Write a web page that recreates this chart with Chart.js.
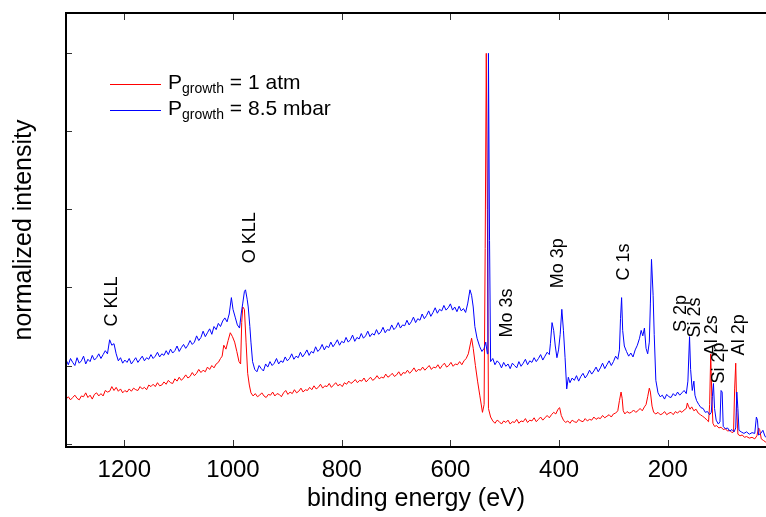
<!DOCTYPE html>
<html>
<head>
<meta charset="utf-8">
<script src="https://cdn.jsdelivr.net/npm/chart.js@4.4.1/dist/chart.umd.min.js"></script>
<style>
  html, body { margin: 0; padding: 0; background: #fff; }
  canvas { display: block; }
</style>
</head>
<body>
<canvas id="xpsChart" width="766" height="517"></canvas>
<script>
// XPS survey spectra, binding energy (eV) vs normalized intensity
const energyTicks = [200, 400, 600, 800, 1000, 1200];
const intensityTicks = [0, 1, 2, 3, 4, 5];

const redSpectrum = [
  [1307,0.57],[1303,0.60],[1299,0.56],[1295,0.59],[1291,0.62],[1287,0.58],[1283,0.56],[1279,0.61],
  [1275,0.60],[1271,0.65],[1267,0.59],[1263,0.62],[1259,0.57],[1255,0.63],[1251,0.65],[1247,0.61],
  [1243,0.64],[1239,0.61],[1235,0.68],[1231,0.66],[1227,0.67],[1223,0.73],[1219,0.68],[1215,0.72],
  [1211,0.67],[1207,0.70],[1203,0.65],[1199,0.68],[1195,0.66],[1191,0.70],[1187,0.67],[1183,0.71],
  [1179,0.69],[1175,0.68],[1171,0.73],[1167,0.70],[1163,0.72],[1159,0.69],[1155,0.75],[1151,0.73],
  [1147,0.76],[1143,0.73],[1139,0.78],[1135,0.74],[1131,0.75],[1127,0.79],[1123,0.76],[1119,0.81],
  [1115,0.78],[1111,0.77],[1107,0.83],[1103,0.80],[1099,0.85],[1095,0.81],[1091,0.84],[1087,0.88],
  [1083,0.84],[1079,0.86],[1075,0.91],[1071,0.87],[1067,0.90],[1063,0.95],[1059,0.91],[1055,0.94],
  [1051,0.92],[1047,0.98],[1043,0.95],[1039,1.00],[1035,0.97],[1031,1.02],[1027,1.04],[1023,1.09],
  [1020,1.12],[1017,1.26],[1013,1.21],[1009,1.32],[1005,1.42],[1001,1.37],[997,1.30],[993,1.18],
  [989,1.05],[986,1.02],[984,1.55],[982,1.75],[979,1.72],[976,1.30],[973,0.90],[970,0.75],
  [967,0.65],[963,0.61],[959,0.64],[955,0.60],[951,0.62],[947,0.65],[943,0.61],[939,0.59],
  [935,0.63],[931,0.62],[927,0.66],[923,0.61],[919,0.64],[915,0.63],[911,0.60],[907,0.65],
  [903,0.68],[899,0.63],[895,0.66],[891,0.64],[887,0.69],[883,0.65],[879,0.67],[875,0.71],
  [871,0.66],[867,0.69],[863,0.68],[859,0.72],[855,0.69],[851,0.74],[847,0.70],[843,0.72],
  [839,0.76],[835,0.71],[831,0.74],[827,0.73],[823,0.77],[819,0.72],[815,0.75],[811,0.78],
  [807,0.74],[803,0.76],[799,0.73],[795,0.78],[791,0.76],[787,0.80],[783,0.77],[779,0.79],
  [775,0.82],[771,0.78],[767,0.81],[763,0.80],[759,0.84],[755,0.79],[751,0.82],[747,0.85],
  [743,0.81],[739,0.83],[735,0.87],[731,0.83],[727,0.85],[723,0.84],[719,0.89],[715,0.85],
  [711,0.87],[707,0.90],[703,0.86],[699,0.88],[695,0.92],[691,0.87],[687,0.91],[683,0.90],
  [679,0.94],[675,0.90],[671,0.93],[667,0.97],[663,0.92],[659,0.95],[655,0.94],[651,0.98],
  [647,0.94],[643,0.97],[639,1.00],[635,0.95],[631,0.98],[627,0.97],[623,1.01],[619,0.96],
  [615,1.00],[611,1.03],[607,0.98],[603,1.00],[599,1.04],[595,0.99],[591,1.02],[587,1.01],
  [583,1.05],[579,1.01],[575,1.06],[571,1.09],[567,1.15],[564,1.25],[561,1.35],[558,1.22],
  [554,1.00],[550,0.80],[546,0.62],[541,0.40],[538,0.50],[536,2.50],[534,5.00],[532,3.00],
  [530,0.45],[526,0.34],[522,0.29],[518,0.26],[514,0.30],[510,0.28],[506,0.25],[502,0.29],
  [498,0.27],[494,0.30],[490,0.25],[486,0.28],[482,0.27],[478,0.31],[474,0.26],[470,0.29],
  [466,0.28],[462,0.32],[458,0.27],[454,0.30],[450,0.29],[446,0.33],[442,0.28],[438,0.31],
  [434,0.34],[430,0.30],[426,0.33],[422,0.36],[418,0.33],[414,0.37],[410,0.40],[406,0.38],
  [402,0.44],[399,0.46],[396,0.36],[392,0.30],[388,0.27],[384,0.29],[380,0.26],[376,0.30],
  [372,0.28],[368,0.27],[364,0.31],[360,0.29],[356,0.28],[352,0.32],[348,0.29],[344,0.31],
  [340,0.30],[336,0.34],[332,0.31],[328,0.33],[324,0.32],[320,0.36],[316,0.33],[312,0.35],
  [308,0.37],[304,0.34],[300,0.38],[296,0.39],[292,0.42],[289,0.55],[286,0.66],[284,0.58],
  [282,0.42],[279,0.38],[275,0.41],[271,0.39],[267,0.40],[263,0.43],[259,0.40],[255,0.42],
  [251,0.45],[247,0.42],[243,0.47],[240,0.50],[237,0.60],[234,0.71],[232,0.66],[229,0.48],
  [226,0.40],[222,0.38],[218,0.40],[214,0.37],[210,0.38],[206,0.41],[202,0.37],[198,0.39],
  [194,0.40],[190,0.37],[186,0.41],[182,0.39],[178,0.42],[174,0.40],[170,0.43],[166,0.45],
  [164,0.52],[162,0.48],[159,0.44],[156,0.47],[152,0.42],[148,0.44],[144,0.39],[140,0.37],
  [136,0.35],[132,0.33],[128,0.30],[125,0.28],[123,0.50],[121,1.15],[119,0.60],[117,0.26],
  [114,0.22],[110,0.23],[106,0.20],[102,0.21],[98,0.18],[94,0.19],[90,0.16],[86,0.17],
  [82,0.14],[79,0.15],[77,0.70],[75,1.03],[73,0.40],[71,0.12],[67,0.10],[63,0.11],
  [59,0.08],[55,0.09],[50,0.07],[45,0.08],[40,0.06],[36,0.10],[33,0.20],[31,0.18],
  [28,0.06],[24,0.04],[20,0.02],[16,0.01]
];

const blueSpectrum = [
  [1307,1.07],[1303,1.01],[1299,1.09],[1295,1.04],[1291,1.00],[1287,1.10],[1283,1.03],[1279,1.06],
  [1275,1.12],[1271,1.02],[1267,1.08],[1263,1.05],[1259,1.13],[1255,1.07],[1251,1.10],[1247,1.15],
  [1243,1.09],[1239,1.14],[1235,1.19],[1231,1.15],[1227,1.33],[1223,1.26],[1219,1.28],[1215,1.15],
  [1211,1.06],[1207,1.10],[1203,1.03],[1199,1.07],[1195,1.04],[1191,1.09],[1187,1.02],[1183,1.06],
  [1179,1.10],[1175,1.04],[1171,1.08],[1167,1.12],[1163,1.06],[1159,1.10],[1155,1.08],[1151,1.14],
  [1147,1.09],[1143,1.12],[1139,1.17],[1135,1.11],[1131,1.15],[1127,1.13],[1123,1.19],[1119,1.14],
  [1115,1.21],[1111,1.16],[1107,1.19],[1103,1.25],[1099,1.18],[1095,1.23],[1091,1.27],[1087,1.22],
  [1083,1.26],[1079,1.32],[1075,1.27],[1071,1.30],[1067,1.38],[1063,1.32],[1059,1.36],[1055,1.44],
  [1051,1.37],[1047,1.42],[1043,1.47],[1039,1.40],[1035,1.50],[1031,1.46],[1027,1.54],[1023,1.50],
  [1019,1.57],[1015,1.61],[1011,1.56],[1007,1.66],[1003,1.87],[1000,1.72],[996,1.62],[992,1.52],
  [988,1.48],[985,1.66],[982,1.80],[979,1.95],[977,1.97],[974,1.85],[972,1.75],[969,1.50],
  [967,1.30],[964,1.05],[960,0.95],[956,0.92],[952,1.00],[948,0.96],[944,0.93],[940,1.02],
  [936,0.98],[932,1.05],[928,1.00],[924,1.03],[920,1.09],[916,1.02],[912,1.06],[908,1.04],
  [904,1.11],[900,1.06],[896,1.09],[892,1.15],[888,1.08],[884,1.12],[880,1.10],[876,1.17],
  [872,1.11],[868,1.15],[864,1.20],[860,1.13],[856,1.18],[852,1.16],[848,1.24],[844,1.18],
  [840,1.21],[836,1.27],[832,1.20],[828,1.25],[824,1.23],[820,1.30],[816,1.24],[812,1.28],
  [808,1.33],[804,1.26],[800,1.31],[796,1.29],[792,1.36],[788,1.30],[784,1.33],[780,1.39],
  [776,1.31],[772,1.36],[768,1.34],[764,1.41],[760,1.35],[756,1.38],[752,1.44],[748,1.37],
  [744,1.41],[740,1.39],[736,1.46],[732,1.40],[728,1.43],[724,1.49],[720,1.42],[716,1.46],
  [712,1.45],[708,1.52],[704,1.46],[700,1.49],[696,1.55],[692,1.48],[688,1.52],[684,1.51],
  [680,1.58],[676,1.52],[672,1.56],[668,1.62],[664,1.55],[660,1.60],[656,1.58],[652,1.66],
  [648,1.60],[644,1.64],[640,1.70],[636,1.63],[632,1.68],[628,1.74],[624,1.67],[620,1.72],
  [616,1.70],[612,1.77],[608,1.71],[604,1.74],[600,1.79],[596,1.71],[592,1.75],[588,1.69],
  [584,1.76],[580,1.70],[576,1.73],[572,1.68],[568,1.80],[564,1.97],[561,1.90],[558,1.75],
  [555,1.50],[551,1.35],[546,1.24],[542,1.18],[538,1.22],[535,1.30],[532,1.15],[531,2.80],
  [530,5.00],[528,2.60],[526,1.05],[522,1.09],[518,1.01],[514,1.06],[510,1.03],[506,0.97],
  [502,1.04],[498,0.99],[494,1.02],[490,0.96],[486,1.03],[482,1.00],[478,0.97],[474,1.05],
  [470,0.99],[466,1.03],[462,1.08],[458,1.01],[454,1.06],[450,1.04],[446,1.10],[442,1.05],
  [438,1.09],[434,1.14],[430,1.07],[426,1.12],[422,1.17],[418,1.14],[416,1.28],[413,1.55],
  [410,1.45],[407,1.25],[404,1.10],[401,1.20],[398,1.40],[395,1.72],[392,1.45],[389,1.10],
  [386,0.70],[383,0.85],[380,0.78],[376,0.84],[372,0.81],[368,0.87],[364,0.80],[360,0.86],
  [356,0.90],[352,0.84],[348,0.88],[344,0.94],[340,0.89],[336,0.93],[332,0.98],[328,0.92],
  [324,0.97],[320,1.03],[316,0.96],[312,1.01],[308,1.06],[304,1.00],[300,1.05],[296,1.12],
  [292,1.08],[289,1.20],[287,1.60],[285,1.87],[283,1.45],[280,1.25],[276,1.18],[272,1.12],
  [268,1.16],[264,1.11],[260,1.20],[256,1.26],[252,1.35],[249,1.45],[246,1.38],[243,1.48],
  [240,1.22],[237,1.15],[234,1.30],[232,1.80],[230,2.36],[227,1.90],[225,1.40],[222,0.81],
  [218,0.65],[214,0.60],[210,0.62],[206,0.57],[202,0.63],[198,0.60],[194,0.59],[190,0.64],
  [186,0.61],[182,0.66],[178,0.62],[174,0.65],[170,0.68],[166,0.64],[163,0.80],[160,1.37],
  [158,0.95],[155,0.68],[152,0.80],[150,0.62],[147,0.55],[143,0.50],[139,0.46],[135,0.45],
  [131,0.40],[127,0.41],[123,0.37],[120,0.40],[118,0.60],[116,0.77],[114,0.45],[111,0.30],
  [107,0.25],[104,0.28],[102,0.68],[100,0.66],[98,0.22],[94,0.19],[90,0.20],[86,0.16],
  [82,0.18],[78,0.15],[75,0.20],[73,0.66],[71,0.45],[69,0.17],[65,0.15],[60,0.13],
  [55,0.15],[50,0.12],[45,0.14],[40,0.13],[37,0.34],[35,0.30],[33,0.11],[29,0.13],
  [25,0.17],[21,0.09],[16,0.07]
];

// peak annotations: label, energy, height where the text starts
const peakLabels = ['C KLL', 'O KLL', 'Mo 3s', 'Mo 3p', 'C 1s', 'S 2p', 'Si 2s', 'Al 2s', 'Si 2p', 'Al 2p'];
const peakEnergy = [1223, 969, 496, 402, 281, 176, 150, 119, 106, 69];
const peakHeight = [1.50, 2.31, 1.36, 1.99, 2.09, 1.43, 1.36, 1.13, 0.77, 1.13];

const seriesColors = ['#ff0000', '#0000ff'];
const seriesValues = [' = 1 atm', ' = 8.5 mbar'];

const FONT = '"Liberation Sans", Arial, Helvetica, sans-serif';

const toPoints = arr => arr.map(p => ({ x: p[0], y: p[1] }));

const decorations = {
  id: 'decorations',
  afterDatasetsDraw(chart) {
    const { ctx, chartArea: a, scales: { x, y } } = chart;
    ctx.save();

    // inward ticks
    ctx.strokeStyle = '#333';
    ctx.lineWidth = 1;
    ctx.beginPath();
    energyTicks.forEach(e => {
      const px = Math.round(x.getPixelForValue(e)) + 0.5;
      ctx.moveTo(px, a.top); ctx.lineTo(px, a.top + 7);
      ctx.moveTo(px, a.bottom); ctx.lineTo(px, a.bottom - 7);
    });
    intensityTicks.forEach(v => {
      const py = Math.round(y.getPixelForValue(v)) + 0.5;
      ctx.moveTo(a.left, py); ctx.lineTo(a.left + 6, py);
    });
    ctx.stroke();

    // axes box (right side is cut off)
    ctx.strokeStyle = '#000';
    ctx.lineWidth = 2;
    ctx.beginPath();
    ctx.moveTo(a.right, a.top);
    ctx.lineTo(a.left, a.top);
    ctx.lineTo(a.left, a.bottom);
    ctx.lineTo(a.right, a.bottom);
    ctx.stroke();

    // peak labels, rotated
    ctx.fillStyle = '#000';
    ctx.font = '18px ' + FONT;
    ctx.textAlign = 'left';
    ctx.textBaseline = 'middle';
    peakLabels.forEach((t, i) => {
      ctx.save();
      ctx.translate(x.getPixelForValue(peakEnergy[i]), y.getPixelForValue(peakHeight[i]));
      ctx.rotate(-Math.PI / 2);
      ctx.fillText(t, 0, 0);
      ctx.restore();
    });

    // legend with subscript
    ctx.textBaseline = 'alphabetic';
    seriesValues.forEach((txt, i) => {
      const ly = a.top + 71 + i * 26;
      ctx.strokeStyle = seriesColors[i];
      ctx.lineWidth = 1;
      ctx.beginPath();
      ctx.moveTo(a.left + 44, ly + 0.5);
      ctx.lineTo(a.left + 95, ly + 0.5);
      ctx.stroke();

      let tx = a.left + 102;
      const base = ly + 5;
      ctx.font = '21px ' + FONT;
      ctx.fillText('P', tx, base);
      tx += ctx.measureText('P').width;
      ctx.font = '14px ' + FONT;
      ctx.fillText('growth', tx, base + 4);
      tx += ctx.measureText('growth').width;
      ctx.font = '21px ' + FONT;
      ctx.fillText(txt, tx, base);
    });

    ctx.restore();
  }
};

new Chart(document.getElementById('xpsChart'), {
  type: 'line',
  data: {
    datasets: [
      {
        label: 'P_growth = 1 atm',
        data: toPoints(redSpectrum),
        borderColor: seriesColors[0],
        borderWidth: 1,
        pointRadius: 0,
        tension: 0,
        order: 1
      },
      {
        label: 'P_growth = 8.5 mbar',
        data: toPoints(blueSpectrum),
        borderColor: seriesColors[1],
        borderWidth: 1,
        pointRadius: 0,
        tension: 0,
        order: 0
      }
    ]
  },
  options: {
    responsive: false,
    animation: false,
    devicePixelRatio: 1,
    layout: { padding: { top: 13, right: 0, left: 0, bottom: 0 } },
    scales: {
      x: {
        type: 'linear',
        reverse: true,
        min: 19.3,
        max: 1307.3,
        afterBuildTicks: s => { s.ticks = energyTicks.map(v => ({ value: v })); },
        afterFit: s => { s.height = 70; },
        grid: { display: false, drawTicks: false },
        border: { display: false },
        ticks: {
          color: '#000',
          font: { family: FONT, size: 24 },
          padding: 9,
          maxRotation: 0,
          callback: v => String(v)
        },
        title: {
          display: true,
          text: 'binding energy (eV)',
          color: '#000',
          font: { family: FONT, size: 25 },
          padding: { top: 0, bottom: 3 }
        }
      },
      y: {
        type: 'linear',
        min: -0.044,
        max: 5.517,
        afterBuildTicks: s => { s.ticks = intensityTicks.map(v => ({ value: v })); },
        afterFit: s => { s.width = 66; },
        grid: { display: false, drawTicks: false },
        border: { display: false },
        ticks: { display: false },
        title: {
          display: true,
          text: 'normalized intensity',
          color: '#000',
          font: { family: FONT, size: 25 },
          padding: { top: 9, bottom: 0 }
        }
      }
    },
    plugins: {
      legend: { display: false },
      tooltip: { enabled: false }
    }
  },
  plugins: [decorations]
});
</script>
</body>
</html>
